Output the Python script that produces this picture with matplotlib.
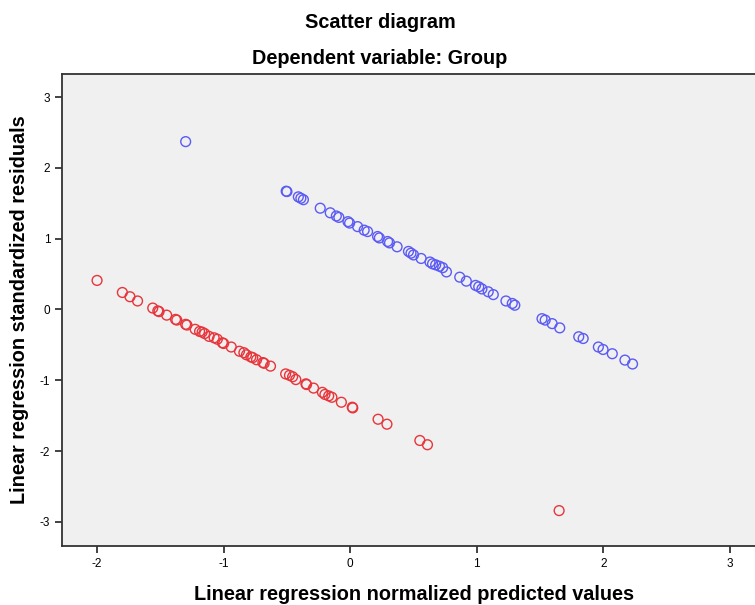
import matplotlib
matplotlib.use("Agg")
import matplotlib.pyplot as plt

plt.rcParams['font.family'] = ['Liberation Sans', 'DejaVu Sans']
plt.rcParams['axes.unicode_minus'] = False

# group 1 (red) residuals vs predicted
red_x = [-2.0, -1.80, -1.74, -1.68, -1.56, -1.52, -1.51, -1.45, -1.38, -1.37,
         -1.30, -1.29, -1.225, -1.19, -1.17, -1.15, -1.115, -1.075, -1.05, -1.01,
         -1.0, -0.94, -0.875, -0.84, -0.82, -0.785, -0.77, -0.74, -0.69, -0.68,
         -0.63, -0.51, -0.48, -0.455, -0.43, -0.35, -0.345, -0.29, -0.22, -0.20,
         -0.17, -0.145, -0.07, 0.016, 0.02, 0.22, 0.29, 0.55, 0.61, 1.65]
red_y = [0.41, 0.24, 0.18, 0.12, 0.02, -0.02, -0.03, -0.08, -0.14, -0.15,
         -0.21, -0.22, -0.28, -0.31, -0.32, -0.34, -0.38, -0.40, -0.42, -0.47,
         -0.48, -0.53, -0.59, -0.61, -0.64, -0.67, -0.68, -0.71, -0.75, -0.76,
         -0.80, -0.91, -0.93, -0.95, -0.99, -1.05, -1.06, -1.11, -1.17, -1.20,
         -1.22, -1.24, -1.31, -1.38, -1.39, -1.55, -1.62, -1.85, -1.91, -2.84]

# group 2 (blue)
blue_x = [-1.30, -0.506, -0.50, -0.41, -0.39, -0.37, -0.237, -0.158, -0.11, -0.09,
          -0.018, -0.005, 0.058, 0.11, 0.137, 0.216, 0.23, 0.295, 0.31, 0.37,
          0.46, 0.48, 0.50, 0.56, 0.63, 0.65, 0.675, 0.705, 0.73, 0.76,
          0.865, 0.917, 0.99, 1.015, 1.04, 1.09, 1.13, 1.23, 1.28, 1.30,
          1.515, 1.54, 1.595, 1.655, 1.805, 1.84, 1.96, 1.997, 2.07, 2.17, 2.23]
blue_y = [2.37, 1.67, 1.665, 1.59, 1.57, 1.55, 1.43, 1.365, 1.32, 1.30,
          1.24, 1.22, 1.17, 1.12, 1.10, 1.03, 1.01, 0.96, 0.94, 0.885,
          0.82, 0.795, 0.77, 0.72, 0.67, 0.645, 0.63, 0.61, 0.59, 0.53,
          0.456, 0.40, 0.34, 0.32, 0.29, 0.25, 0.21, 0.12, 0.085, 0.06,
          -0.13, -0.15, -0.20, -0.26, -0.385, -0.41, -0.53, -0.565, -0.625, -0.715, -0.77]

ticks = [-3, -2, -1, 0, 1, 2, 3]

fig = plt.figure(figsize=(7.55, 6.05), dpi=100)
ax = fig.add_axes([0.0821, 0.0975, 0.918, 0.7802])
ax.set_facecolor('#f0f0f0')

ax.scatter(red_x, red_y, s=50, facecolors='none', edgecolors='#e8353b', linewidths=1.0)
ax.scatter(blue_x, blue_y, s=50, facecolors='none', edgecolors='#5b5bf5', linewidths=1.0)

ax.set_xlim(-2.277, 3.198)
ax.set_ylim(-3.34, 3.325)
ax.set_xticks(ticks[1:])
ax.set_yticks(ticks)
ax.tick_params(labelsize=8.5, length=5, width=1.2, color='#222222')
for side in ['left', 'bottom', 'top']:
    ax.spines[side].set_linewidth(1.3)
    ax.spines[side].set_color('#333333')
ax.spines['right'].set_visible(False)

ax.set_xlabel("Linear regression normalized predicted values", fontsize=14.3, fontweight='bold')
ax.set_ylabel("Linear regression standardized residuals", fontsize=14.3, fontweight='bold')
ax.xaxis.set_label_coords(0.508, -0.082)
ax.yaxis.set_label_coords(-0.048, 0.5)

fig.text(380 / 755, 1 - 23 / 605, "Scatter diagram", ha='center', va='center', fontsize=14.3, fontweight='bold')
fig.text(380 / 755, 1 - 59 / 605, "Dependent variable: Group", ha='center', va='center', fontsize=14.3, fontweight='bold')

fig.savefig("out.png", dpi=100)
